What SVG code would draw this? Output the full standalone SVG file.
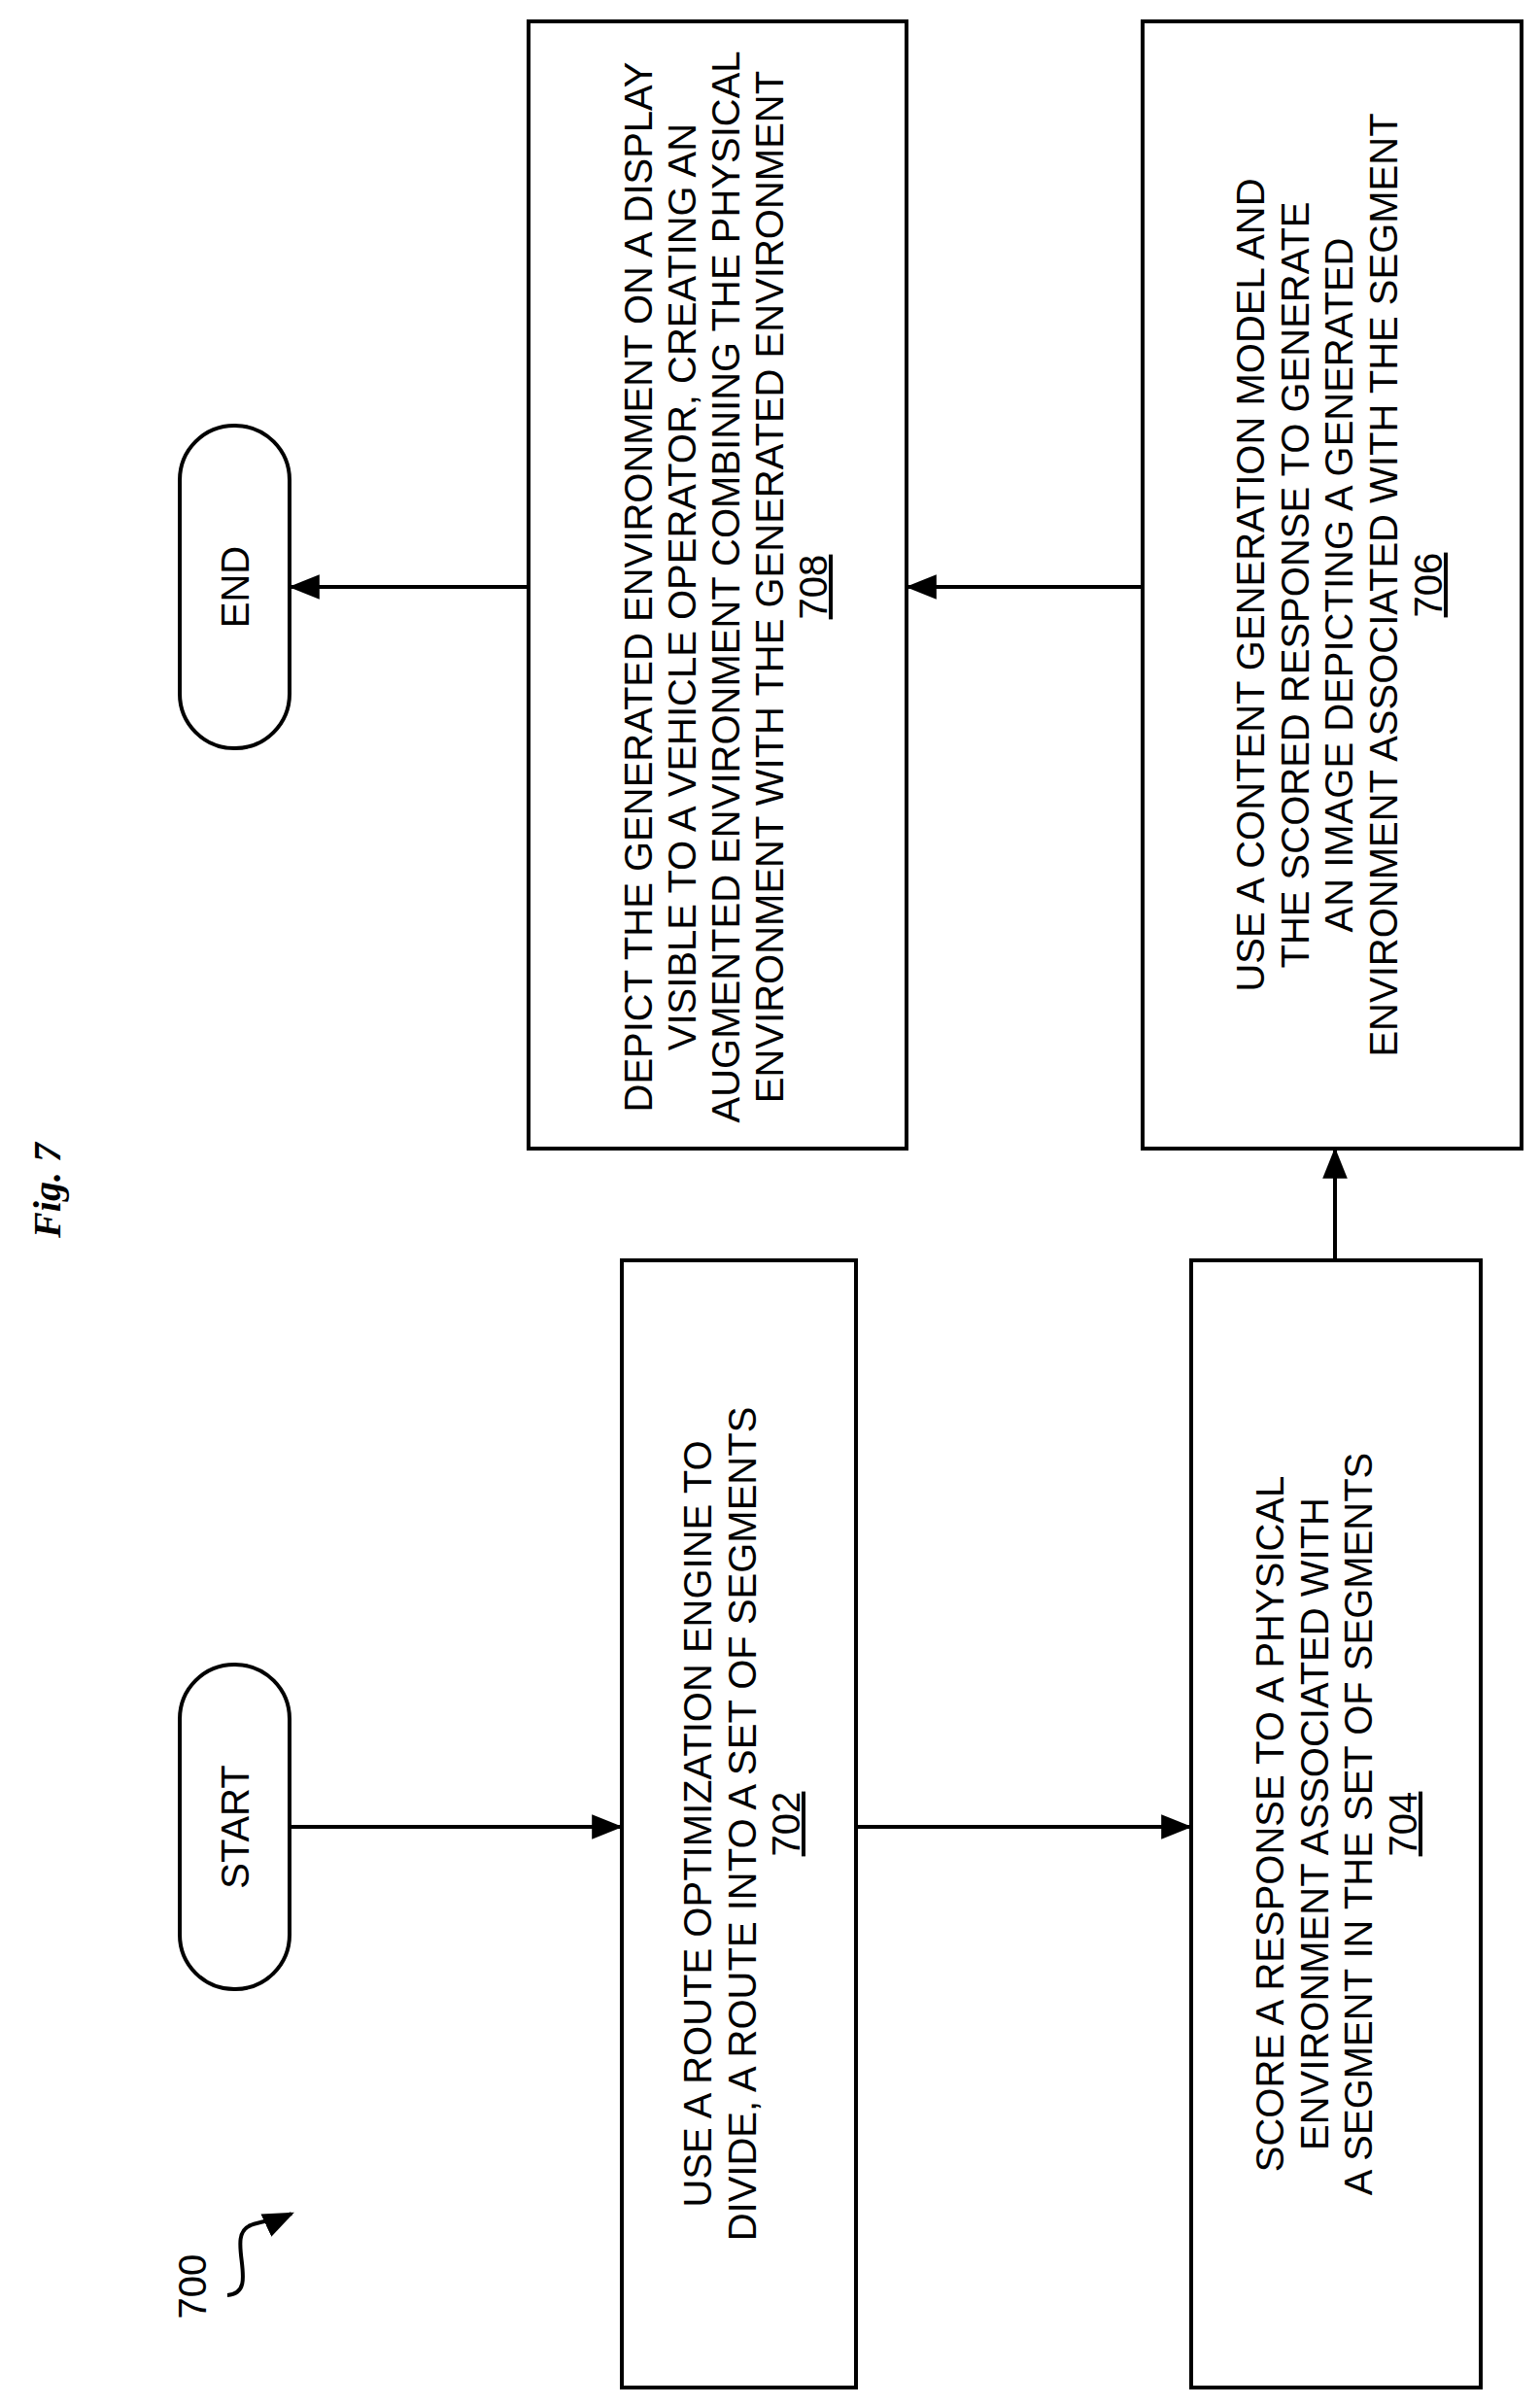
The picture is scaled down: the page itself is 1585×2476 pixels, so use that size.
<svg xmlns="http://www.w3.org/2000/svg" width="1585" height="2476" viewBox="0 0 1585 2476">
<style>
.b{fill:#fff;stroke:#000;stroke-width:4}
.t{font-family:"Liberation Sans",Arial,sans-serif;font-size:40px;text-anchor:middle;fill:#000}
.c{stroke:#000;stroke-width:4;fill:none}
</style>
<defs>
<marker id="m" viewBox="0 0 10 10" refX="9" refY="5" markerWidth="32" markerHeight="32" orient="auto" markerUnits="userSpaceOnUse"><path d="M0,1 L10,5 L0,9 z"/></marker></defs>
<rect width="1585" height="2476" fill="#fff"/>
<text transform="translate(62,1225) rotate(-90)" style="font-family:'Liberation Serif',serif;font-size:40px;font-weight:bold;font-style:italic" text-anchor="middle">Fig. 7</text>
<g id="label700">
<text class="t" transform="translate(212,2353) rotate(-90)">700</text>
<path class="c" d="M234,2362 C270,2360 230,2300 258,2290 C270,2285 285,2285 300,2278" marker-end="url(#m)"/>
</g>
<g id="start"><rect class="b" x="185" y="1713" width="113" height="334" rx="56"/><text class="t" transform="translate(256,1880) rotate(-90)">START</text></g>
<g id="end"><rect class="b" x="185" y="438" width="113" height="332" rx="56"/><text class="t" transform="translate(256,604) rotate(-90)">END</text></g>
<g id="n702"><rect class="b" x="640" y="1297" width="241" height="1160"/><text class="t" transform="translate(0,1877) rotate(-90)"><tspan x="0" y="732">USE A ROUTE OPTIMIZATION ENGINE TO</tspan><tspan x="0" y="778">DIVIDE, A ROUTE INTO A SET OF SEGMENTS</tspan><tspan x="0" y="823" text-decoration="underline">702</tspan></text></g>
<g id="n704"><rect class="b" x="1226" y="1297" width="298" height="1160"/><text class="t" transform="translate(0,1877) rotate(-90)"><tspan x="0" y="1321">SCORE A RESPONSE TO A PHYSICAL</tspan><tspan x="0" y="1367">ENVIRONMENT ASSOCIATED WITH</tspan><tspan x="0" y="1412">A SEGMENT IN THE SET OF SEGMENTS</tspan><tspan x="0" y="1458" text-decoration="underline">704</tspan></text></g>
<g id="n706"><rect class="b" x="1176" y="22" width="390" height="1160"/><text class="t" transform="translate(0,602) rotate(-90)"><tspan x="0" y="1301">USE A CONTENT GENERATION MODEL AND</tspan><tspan x="0" y="1347">THE SCORED RESPONSE TO GENERATE</tspan><tspan x="0" y="1392">AN IMAGE DEPICTING A GENERATED</tspan><tspan x="0" y="1438">ENVIRONMENT ASSOCIATED WITH THE SEGMENT</tspan><tspan x="0" y="1484" text-decoration="underline">706</tspan></text></g>
<g id="n708"><rect class="b" x="544" y="22" width="389" height="1160"/><text class="t" transform="translate(0,604) rotate(-90)"><tspan x="0" y="671">DEPICT THE GENERATED ENVIRONMENT ON A DISPLAY</tspan><tspan x="0" y="716">VISIBLE TO A VEHICLE OPERATOR, CREATING AN</tspan><tspan x="0" y="761">AUGMENTED ENVIRONMENT COMBINING THE PHYSICAL</tspan><tspan x="0" y="806">ENVIRONMENT WITH THE GENERATED ENVIRONMENT</tspan><tspan x="0" y="851" text-decoration="underline">708</tspan></text></g>
<g id="connectors">
<line class="c" x1="298" y1="1880" x2="638" y2="1880" marker-end="url(#m)"/>
<line class="c" x1="881" y1="1880" x2="1224" y2="1880" marker-end="url(#m)"/>
<line class="c" x1="1374" y1="1297" x2="1374" y2="1184" marker-end="url(#m)"/>
<line class="c" x1="1176" y1="604" x2="935" y2="604" marker-end="url(#m)"/>
<line class="c" x1="544" y1="604" x2="300" y2="604" marker-end="url(#m)"/>
</g>
</svg>
